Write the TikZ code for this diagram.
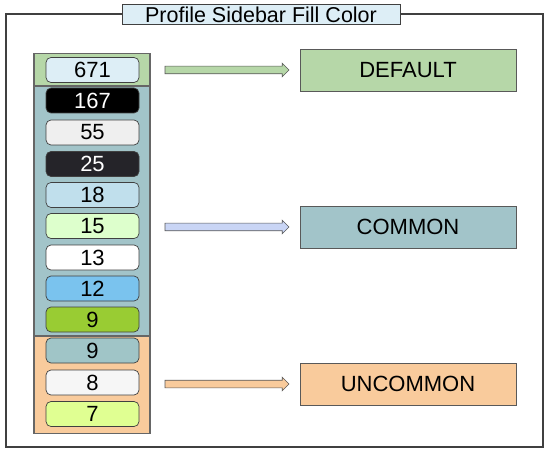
\documentclass[tikz,border=0pt]{standalone}
\usepackage{fontspec}
\setmainfont{Liberation Sans}
\usetikzlibrary{calc}
\usetikzlibrary{shapes.arrows}

\definecolor{defgreen}{HTML}{B6D7A8}
\definecolor{comteal}{HTML}{A2C4C9}
\definecolor{uncorange}{HTML}{F9CB9C}
\definecolor{arrowlav}{HTML}{C9D5F5}
\definecolor{titleblue}{HTML}{DDEEF6}
\definecolor{fillA}{HTML}{DDEEF6}
\definecolor{fillB}{HTML}{000000}
\definecolor{fillC}{HTML}{EFEFEF}
\definecolor{fillD}{HTML}{252429}
\definecolor{fillE}{HTML}{C0DFEC}
\definecolor{fillF}{HTML}{DDFFCC}
\definecolor{fillG}{HTML}{FFFFFF}
\definecolor{fillH}{HTML}{7AC3EE}
\definecolor{fillI}{HTML}{99CC33}
\definecolor{fillJ}{HTML}{A0C5C7}
\definecolor{fillK}{HTML}{F6F6F6}
\definecolor{fillL}{HTML}{E0FF92}

\begin{document}
\begin{tikzpicture}[x=1pt, y=-1pt,
        every node/.style={font=\fontsize{22}{26}\selectfont},
        pill/.style={draw=black!75, line width=0.7pt, rounded corners=5pt, minimum width=93pt, minimum height=25pt, inner sep=0pt},
        group/.style={draw=black!60, line width=1.3pt, minimum width=116pt, inner sep=0pt},
        tier/.style={draw=black!65, line width=0.9pt, minimum width=216pt, minimum height=42pt, inner sep=0pt},
        fatarrow/.style={single arrow, draw=black!65, line width=0.6pt, minimum height=124pt, minimum width=0pt, single arrow head extend=3pt, inner xsep=0pt, inner ysep=3.5pt, font=\tiny}]
        \useasboundingbox (0,0) rectangle (550,452);
        \draw[draw=black!75, line width=1.5pt] (6,14) rectangle (543,447);
        \node[draw=black!75, line width=1pt, fill=titleblue, minimum width=278pt, minimum height=20pt, inner sep=0pt, font=\fontsize{21.5}{24}\selectfont] (title) at (261,15) {Profile Sidebar Fill Color};
        \node[group, fill=defgreen, minimum height=32pt] (grpdefault) at (92,69.5) {};
        \node[group, fill=comteal, minimum height=250pt] (grpcommon) at (92,211) {};
        \node[group, fill=uncorange, minimum height=97pt] (grpuncommon) at (92,385) {};
        \node[pill, fill=fillA] (p671) at (92.5,70) {671};
        \node[pill, fill=fillB, text=white] (p167) at (92.5,100.5) {167};
        \node[pill, fill=fillC] (p55) at (92.5,132.5) {55};
        \node[pill, fill=fillD, text=white] (p25) at (92.5,164) {25};
        \node[pill, fill=fillE] (p18) at (92.5,195) {18};
        \node[pill, fill=fillF] (p15) at (92.5,226) {15};
        \node[pill, fill=fillG] (p13) at (92.5,257.5) {13};
        \node[pill, fill=fillH] (p12) at (92.5,288.5) {12};
        \node[pill, fill=fillI] (p9a) at (92.5,319.5) {9};
        \node[pill, fill=fillJ] (p9b) at (92.5,350.5) {9};
        \node[pill, fill=fillK] (p8) at (92.5,382.5) {8};
        \node[pill, fill=fillL] (p7) at (92.5,414) {7};
        \node[tier, fill=defgreen] (default) at (408,70) {DEFAULT};
        \node[tier, fill=comteal] (common) at (408,227) {COMMON};
        \node[tier, fill=uncorange] (uncommon) at (408,384) {UNCOMMON};
        \path (default.west -| grpdefault.east) -- (default.west) node[midway, fatarrow, fill=defgreen] (arrdefault) {};
        \path (common.west -| grpcommon.east) -- (common.west) node[midway, fatarrow, fill=arrowlav] (arrcommon) {};
        \path (uncommon.west -| grpuncommon.east) -- (uncommon.west) node[midway, fatarrow, fill=uncorange] (arruncommon) {};
    \end{tikzpicture}
\end{document}
